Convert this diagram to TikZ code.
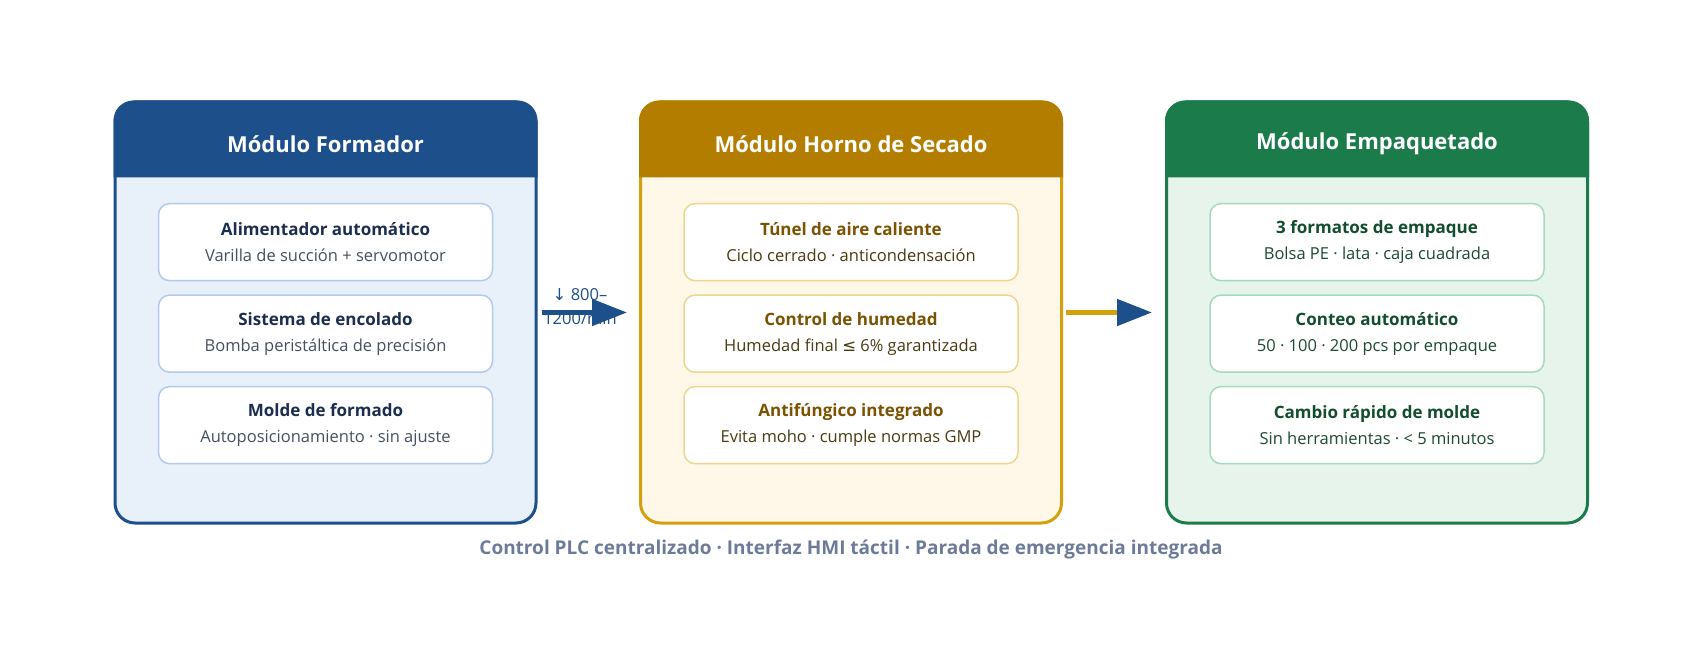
\documentclass[tikz,border=0pt]{standalone}
\usepackage{fontspec}
\setmainfont{Open Sans}
\newfontfamily\arrowfont{DejaVu Sans}
\usepackage{tikz}
\usetikzlibrary{arrows.meta, positioning, calc}
\definecolor{formblue}{HTML}{1D4F8A}
\definecolor{formbg}{HTML}{E8F0FA}
\definecolor{formline}{HTML}{B3CAEA}
\definecolor{formtitle}{HTML}{1B2E50}
\definecolor{formsub}{HTML}{46505F}
\definecolor{ovenhead}{HTML}{B37E00}
\definecolor{ovenborder}{HTML}{D4A00C}
\definecolor{ovenbg}{HTML}{FFF7E7}
\definecolor{ovenline}{HTML}{EDD68E}
\definecolor{oventitle}{HTML}{7A5200}
\definecolor{ovensub}{HTML}{4A3A12}
\definecolor{packgreen}{HTML}{1B7B4B}
\definecolor{packbg}{HTML}{E6F4EC}
\definecolor{packline}{HTML}{A6DABF}
\definecolor{packtitle}{HTML}{124D2E}
\definecolor{packsub}{HTML}{1C4A33}
\definecolor{footgray}{HTML}{6B7B99}
\tikzset{
    modbox/.style={rectangle, rounded corners=20pt, minimum width=421pt, minimum height=421pt, line width=3pt},
    modtitle/.style={minimum width=421pt, minimum height=77pt, yshift=-5pt, text=white, font=\fontsize{22}{26}\selectfont\bfseries},
    itembox/.style={rectangle, rounded corners=11pt, minimum width=334pt, minimum height=77pt, fill=white, line width=1.5pt, align=center, font=\fontsize{16.5}{26}\selectfont},
    flowarrow/.style={line width=5pt, -{Triangle[length=35pt, width=26pt]}}
}

\begin{document}
\begin{tikzpicture}[x=1pt, y=-1pt]
    \useasboundingbox (0,0) rectangle (1682,650);

    % Formador
    \node (m1) [modbox, draw=formblue, fill=formbg] at (325.5,312.5) {};
    \fill[formblue] ($(m1.north west)+(0,77)$) [rounded corners=20pt] -- (m1.north west) -- (m1.north east) [sharp corners] -- ($(m1.north east)+(0,77)$) -- cycle;
    \node (h1) [modtitle, anchor=north] at (m1.north) {Módulo Formador};
    \node (a1) [itembox, draw=formline, text=formsub, below=20pt of h1] {\textcolor{formtitle}{\fontsize{17}{26}\selectfont\bfseries Alimentador automático}\\Varilla de succión + servomotor};
    \node (a2) [itembox, draw=formline, text=formsub, below=13pt of a1] {\textcolor{formtitle}{\fontsize{17}{26}\selectfont\bfseries Sistema de encolado}\\Bomba peristáltica de precisión};
    \node (a3) [itembox, draw=formline, text=formsub, below=13pt of a2] {\textcolor{formtitle}{\fontsize{17}{26}\selectfont\bfseries Molde de formado}\\Autoposicionamiento · sin ajuste};

    % Horno de secado
    \node (m2) [modbox, draw=ovenborder, fill=ovenbg] at (851,312.5) {};
    \fill[ovenhead] ($(m2.north west)+(0,77)$) [rounded corners=20pt] -- (m2.north west) -- (m2.north east) [sharp corners] -- ($(m2.north east)+(0,77)$) -- cycle;
    \node (h2) [modtitle, anchor=north] at (m2.north) {Módulo Horno de Secado};
    \node (b1) [itembox, draw=ovenline, text=ovensub, below=20pt of h2] {\textcolor{oventitle}{\fontsize{17}{26}\selectfont\bfseries Túnel de aire caliente}\\Ciclo cerrado · anticondensación};
    \node (b2) [itembox, draw=ovenline, text=ovensub, below=13pt of b1] {\textcolor{oventitle}{\fontsize{17}{26}\selectfont\bfseries Control de humedad}\\Humedad final {\arrowfont ≤} 6\% garantizada};
    \node (b3) [itembox, draw=ovenline, text=ovensub, below=13pt of b2] {\textcolor{oventitle}{\fontsize{17}{26}\selectfont\bfseries Antifúngico integrado}\\Evita moho · cumple normas GMP};

    % Empaquetado
    \node (m3) [modbox, draw=packgreen, fill=packbg] at (1377,312.5) {};
    \fill[packgreen] ($(m3.north west)+(0,77)$) [rounded corners=20pt] -- (m3.north west) -- (m3.north east) [sharp corners] -- ($(m3.north east)+(0,77)$) -- cycle;
    \node (h3) [modtitle, anchor=north] at (m3.north) {Módulo Empaquetado};
    \node (c1) [itembox, draw=packline, text=packsub, below=20pt of h3] {\textcolor{packtitle}{\fontsize{17}{26}\selectfont\bfseries 3 formatos de empaque}\\Bolsa PE · lata · caja cuadrada};
    \node (c2) [itembox, draw=packline, text=packsub, below=13pt of c1] {\textcolor{packtitle}{\fontsize{17}{26}\selectfont\bfseries Conteo automático}\\50 · 100 · 200 pcs por empaque};
    \node (c3) [itembox, draw=packline, text=packsub, below=13pt of c2] {\textcolor{packtitle}{\fontsize{17}{26}\selectfont\bfseries Cambio rápido de molde}\\Sin herramientas · < 5 minutos};

    % flow
    \node (rate) [text=formblue, align=center, font=\fontsize{16.5}{24}\selectfont] at (580,307) {{\arrowfont ↓} 800–\\1200/min};
    \draw [flowarrow, formblue, shorten <=4pt, shorten >=12pt] (m1.east) -- (m2.west);
    \draw [flowarrow, ovenborder, -{Triangle[length=35pt, width=26pt, color=formblue]}, shorten <=3pt, shorten >=13pt] (m2.east) -- (m3.west);

    \node (foot) [below=12pt of m2, text=footgray, font=\fontsize{19}{22}\selectfont\bfseries] {Control PLC centralizado · Interfaz HMI táctil · Parada de emergencia integrada};
\end{tikzpicture}
\end{document}
